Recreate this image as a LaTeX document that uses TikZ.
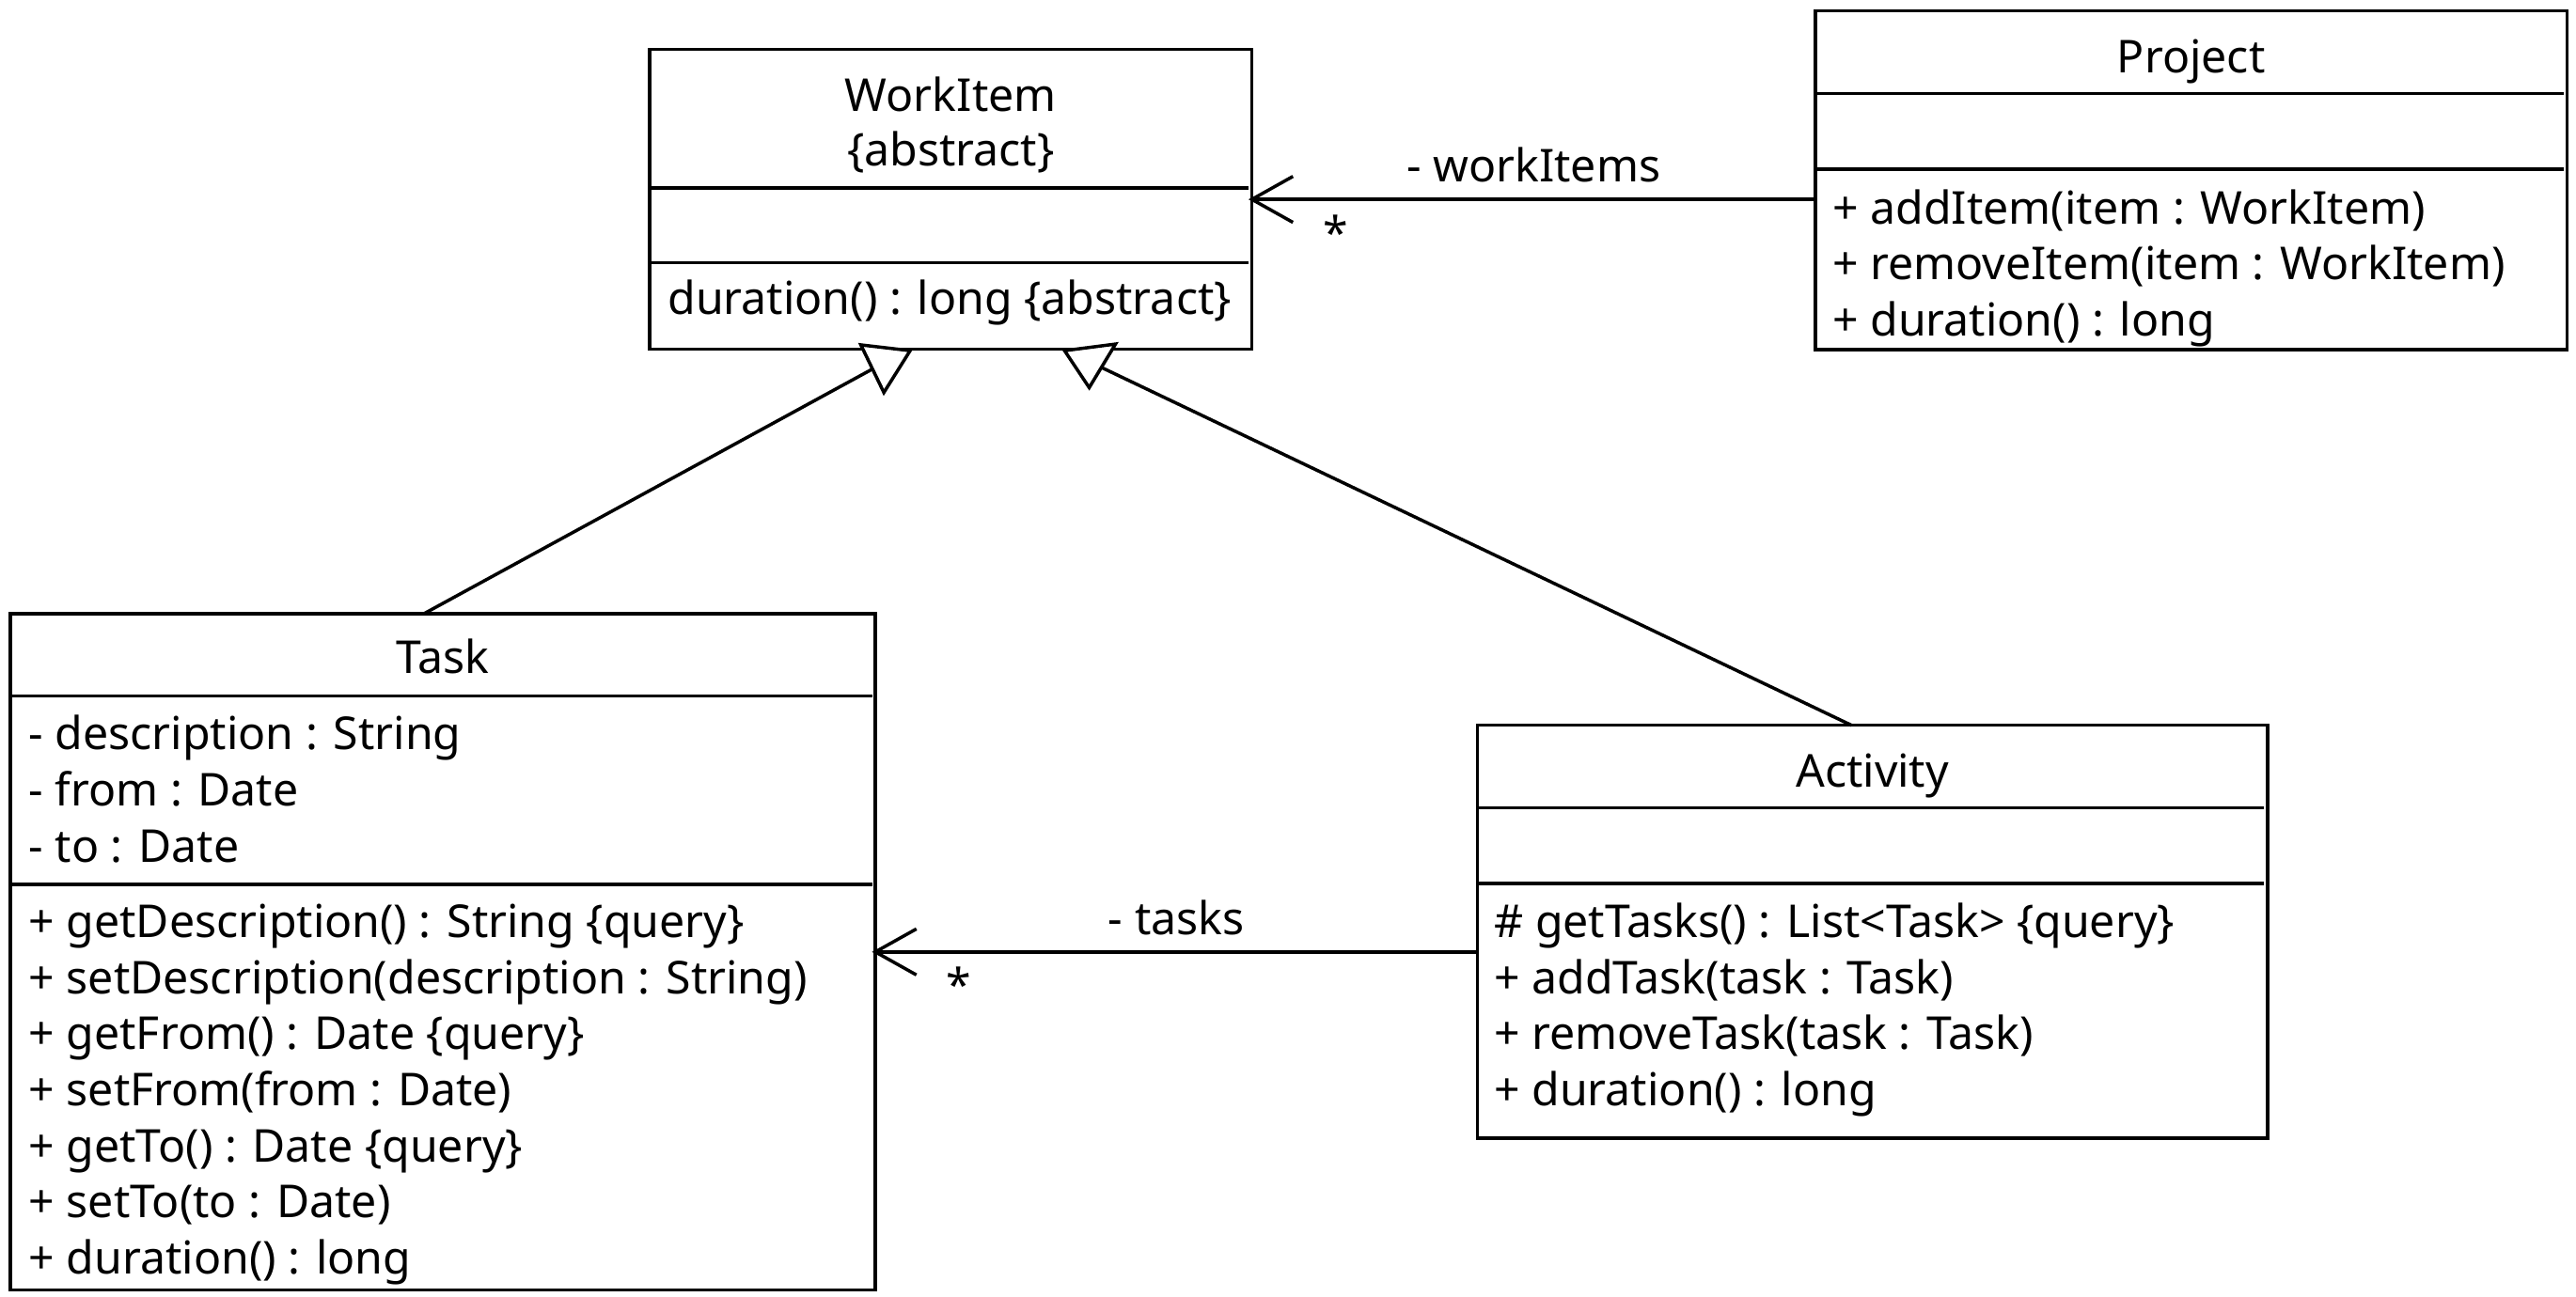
\documentclass[tikz,border=0pt]{standalone}
\usepackage{fontspec}
\setmainfont{Noto Sans}
\usetikzlibrary{calc}
\tikzset{
  umlbox/.style={draw, line width=2pt, rectangle, outer sep=0pt, inner sep=0pt, anchor=north west},
  sep/.style={line width=2pt},
  txt/.style={inner sep=0pt, outer sep=0pt, anchor=base west, font=\fontsize{27.6pt}{34pt}\selectfont},
  ttl/.style={inner sep=0pt, outer sep=0pt, anchor=base, font=\fontsize{27.6pt}{34pt}\selectfont},
  conn/.style={line width=2pt, line join=miter},
}
\begin{document}
\begin{tikzpicture}[x=1pt,y=-1pt]
\useasboundingbox (0,0) rectangle (1568,789.7);
% ---------- boxes
\node[umlbox, minimum width=366.7pt, minimum height=182.6pt] (wi) at (395.3,30.1) {};
\node[umlbox, minimum width=457.4pt, minimum height=206.3pt] (proj) at (1105,6.7) {};
\node[umlbox, minimum width=526.6pt, minimum height=411.8pt] (task) at (6.2,373.7) {};
\node[umlbox, minimum width=481pt, minimum height=251.4pt] (act) at (899.2,441.6) {};
% ---------- compartments
\draw[sep] (wi.west |- 0,114.5) -- ([xshift=-2pt]wi.east |- 0,114.5);
\draw[sep] (wi.west |- 0,159.9) -- ([xshift=-2pt]wi.east |- 0,159.9);
\draw[sep] (proj.west |- 0,56.8) -- ([xshift=-2pt]proj.east |- 0,56.8);
\draw[sep] (proj.west |- 0,103) -- ([xshift=-2pt]proj.east |- 0,103);
\draw[sep] (task.west |- 0,423.8) -- ([xshift=-2pt]task.east |- 0,423.8);
\draw[sep] (task.west |- 0,538.5) -- ([xshift=-2pt]task.east |- 0,538.5);
\draw[sep] (act.west |- 0,491.8) -- ([xshift=-2pt]act.east |- 0,491.8);
\draw[sep] (act.west |- 0,537.9) -- ([xshift=-2pt]act.east |- 0,537.9);
% ---------- WorkItem texts
\node[ttl] (wiT1) at (578.7,67.7) {WorkItem};
\node[ttl] (wiT2) at (578.7,101.1) {\{abstract\}};
\node[txt] (wiM1) at (406.5,191.7) {duration() : long \{abstract\}};
% ---------- Project texts
\node[ttl] (prT) at (1333.7,44.3) {Project};
\node[txt] (prM1) at (1115.5,136.3) {+ addItem(item : WorkItem)};
\node[txt] (prM2) at (1115.5,170.4) {+ removeItem(item : WorkItem)};
\node[txt] (prM3) at (1115.5,204.5) {+ duration() : long};
% ---------- Task texts
\node[ttl] (tkT) at (269.5,410.2) {Task};
\node[txt] (tkA1) at (17.5,456.6) {- description : String};
\node[txt] (tkA2) at (17.5,490.7) {- from : Date};
\node[txt] (tkA3) at (17.5,524.8) {- to : Date};
\node[txt] (tkM1) at (17.5,571.0) {+ getDescription() : String \{query\}};
\node[txt] (tkM2) at (17.5,605.1) {+ setDescription(description : String)};
\node[txt] (tkM3) at (17.5,639.2) {+ getFrom() : Date \{query\}};
\node[txt] (tkM4) at (17.5,673.3) {+ setFrom(from : Date)};
\node[txt] (tkM5) at (17.5,707.4) {+ getTo() : Date \{query\}};
\node[txt] (tkM6) at (17.5,741.5) {+ setTo(to : Date)};
\node[txt] (tkM7) at (17.5,775.6) {+ duration() : long};
% ---------- Activity texts
\node[ttl] (acT) at (1139.7,479.2) {Activity};
\node[txt] (acM1) at (909.5,570.8) {\# getTasks() : List<Task> \{query\}};
\node[txt] (acM2) at (909.5,604.9) {+ addTask(task : Task)};
\node[txt] (acM3) at (909.5,639.0) {+ removeTask(task : Task)};
\node[txt] (acM4) at (909.5,673.1) {+ duration() : long};
% ---------- associations
\draw[conn] (proj.west |- wi.east) -- (wi.east)
  node[ttl, pos=0.5, yshift=10.5pt] (lblWI) {- workItems};
\draw[conn] ([xshift=25pt,yshift=14pt]wi.east) -- (wi.east) -- ([xshift=25pt,yshift=-14pt]wi.east);
\node[ttl] (starWI) at ([xshift=51pt,yshift=-30.3pt]wi.east) {*};
\draw[conn] (act.west |- task.east) -- (task.east)
  node[ttl, pos=0.5, yshift=10.5pt] (lblTK) {- tasks};
\draw[conn] ([xshift=25pt,yshift=14pt]task.east) -- (task.east) -- ([xshift=25pt,yshift=-14pt]task.east);
\node[ttl] (starTK) at ([xshift=51pt,yshift=-30.3pt]task.east) {*};
% ---------- generalizations
\coordinate (g1a) at (524,210);
\coordinate (g1b) at (554,213.5);
\coordinate (g1c) at (538,239);
\coordinate (g1e) at (530.5,225);
\coordinate (g2a) at (648,213.5);
\coordinate (g2b) at (679,209.5);
\coordinate (g2c) at (663,236);
\coordinate (g2e) at (671,224);
\draw[conn] ([xshift=-11.5pt]task.north) -- (g1e);
\draw[conn, fill=white] (g1a) -- (g1b) -- (g1c) -- cycle;
\draw[conn] ([xshift=-12.7pt]act.north) -- (g2e);
\draw[conn, fill=white] (g2a) -- (g2b) -- (g2c) -- cycle;
\end{tikzpicture}
\end{document}
